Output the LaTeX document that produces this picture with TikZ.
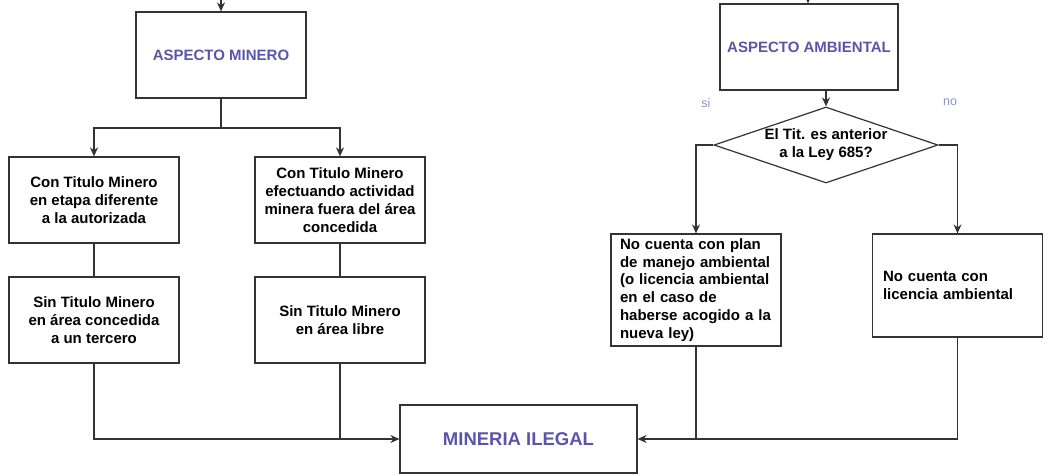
\documentclass[tikz,border=0pt]{standalone}
\usepackage{fontspec}
\setmainfont{Liberation Sans}
\usetikzlibrary{shapes.geometric,arrows.meta}
\definecolor{titulo}{HTML}{5B55A8}
\definecolor{etiq}{HTML}{8C93C4}
\definecolor{trazo}{HTML}{333333}

\begin{document}
\begin{tikzpicture}[x=1pt,y=-1pt]
        \tikzstyle{caja} = [draw=trazo,line width=1.2pt,inner sep=0pt,align=center,minimum width=170pt,minimum height=86pt,font=\bfseries\fontsize{15}{17.8}\selectfont]
        \tikzstyle{conector} = [draw=trazo,line width=1.2pt]
        \tikzstyle{flecha} = [conector,-{Stealth[length=9pt,width=8pt]}]
        \useasboundingbox (0,0) rectangle (1053,475);
        % aspecto minero
        \node[caja,text=titulo] (minero) at (221,55) {ASPECTO MINERO};
        \node[caja] (con1) at (94,200) {Con Titulo Minero\\en etapa diferente\\a la autorizada};
        \node[caja] (con2) at (340,200) {Con Titulo Minero\\efectuando actividad\\minera fuera del área\\concedida};
        \node[caja] (sin1) at (94,320) {Sin Titulo Minero\\en área concedida\\a un tercero};
        \node[caja] (sin2) at (340,320) {Sin Titulo Minero\\en área libre};
        % aspecto ambiental
        \node[caja,text=titulo,minimum width=178pt] (ambiental) at (809,47) {ASPECTO AMBIENTAL};
        \node[caja,diamond,aspect=3,minimum width=224pt,minimum height=76pt] (tit) at (826,145) {El Tit. es anterior\\a la Ley 685?};
        \node[caja,align=left,text width=152pt,inner xsep=9pt,minimum height=112pt] (plan) at (696,290) {No cuenta con plan\\de manejo ambiental\\(o licencia ambiental\\en el caso de\\haberse acogido a la\\nueva ley)};
        \node[caja,align=left,text width=149pt,inner xsep=10pt,minimum height=103pt] (lic) at (957.5,285.5) {No cuenta con\\licencia ambiental};
        \node[text=etiq,font=\fontsize{12.5}{14}\selectfont] (si) at (706,103) {si};
        \node[text=etiq,font=\fontsize{12.5}{14}\selectfont] (no) at (950,102) {no};
        % resultado
        \node[caja,text=titulo,minimum width=237pt,minimum height=68pt,font=\bfseries\fontsize{18.5}{22}\selectfont] (ilegal) at (518.5,439) {MINERIA ILEGAL};
        % conectores
        \coordinate (entmin) at (221,0);
        \coordinate (entamb) at (808,0);
        \coordinate (rama) at (221,128);
        \draw[flecha] (entmin) -- (minero.north);
        \draw[flecha] (entamb) -- (entamb |- ambiental.north);
        \draw[conector] (minero.south) -- (rama);
        \draw[flecha] (rama) -| (con1.north);
        \draw[flecha] (rama) -| (con2.north);
        \draw[conector] (con1.south) -- (sin1.north);
        \draw[conector] (con2.south) -- (sin2.north);
        \draw[flecha] (sin1.south) |- (ilegal.west);
        \draw[conector] (sin2.south) -- (sin2.south |- ilegal.west);
        \draw[flecha] (tit.north |- ambiental.south) -- (tit.north);
        \draw[flecha] (tit.west) -| (plan.north);
        \draw[flecha] (tit.east) -| (lic.north);
        \draw[flecha] (lic.south) |- (ilegal.east);
        \draw[conector] (plan.south) -- (plan.south |- ilegal.east);
      \end{tikzpicture}
\end{document}
